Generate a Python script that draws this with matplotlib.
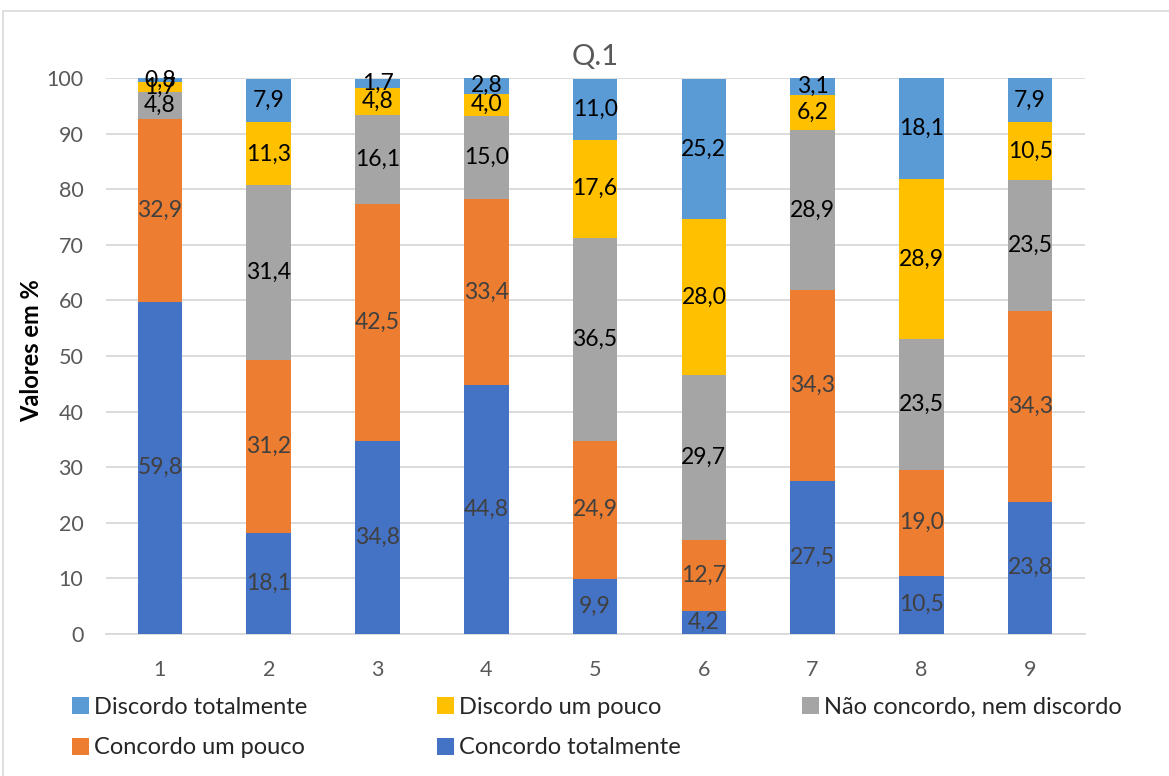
import matplotlib
matplotlib.use("Agg")
import matplotlib.pyplot as plt
from matplotlib.patches import Rectangle, Patch

plt.rcParams['font.family'] = ['Lato', 'DejaVu Sans']

categories = ["1", "2", "3", "4", "5", "6", "7", "8", "9"]

concordo_totalmente = [59.8, 18.1, 34.8, 44.8, 9.9, 4.2, 27.5, 10.5, 23.8]
concordo_um_pouco = [32.9, 31.2, 42.5, 33.4, 24.9, 12.7, 34.3, 19.0, 34.3]
nao_concordo_nem_discordo = [4.8, 31.4, 16.1, 15.0, 36.5, 29.7, 28.9, 23.5, 23.5]
discordo_um_pouco = [1.7, 11.3, 4.8, 4.0, 17.6, 28.0, 6.2, 28.9, 10.5]
discordo_totalmente = [0.8, 7.9, 1.7, 2.8, 11.0, 25.2, 3.1, 18.1, 7.9]

series = [
    ("Concordo totalmente", concordo_totalmente, "#4472C4", "#404040"),
    ("Concordo um pouco", concordo_um_pouco, "#ED7D31", "#404040"),
    ("Não concordo, nem discordo", nao_concordo_nem_discordo, "#A5A5A5", "#000000"),
    ("Discordo um pouco", discordo_um_pouco, "#FFC000", "#000000"),
    ("Discordo totalmente", discordo_totalmente, "#5B9BD5", "#000000"),
]

W, H = 1169, 776
fig = plt.figure(figsize=(W / 100, H / 100), dpi=100)
ax = fig.add_axes([105.6 / W, 1 - 634 / H, (1084.5 - 105.6) / W, (634 - 78) / H])

# chart-area frame
fig.patches.append(Rectangle((3 / W, -0.05), 1.2, 1 - 11 / H + 0.05,
                             transform=fig.transFigure, fill=False,
                             edgecolor="#D9D9D9", linewidth=1.2, zorder=0))

x = list(range(len(categories)))
bottom = [0.0] * len(categories)
for name, vals, color, txtcolor in series:
    bars = ax.bar(x, vals, width=0.41, bottom=bottom, color=color, zorder=3)
    ax.bar_label(bars, labels=[f"{v:.1f}".replace(".", ",") for v in vals],
                 label_type="center", fontsize=16.5, color=txtcolor, zorder=4)
    bottom = [b + v for b, v in zip(bottom, vals)]

ax.set_ylim(0, 100)
ax.set_xlim(-0.5, len(categories) - 0.5)
ax.set_yticks(range(0, 101, 10))
ax.set_xticks(x)
ax.set_xticklabels(categories)
ax.tick_params(axis="both", length=0, labelsize=15.5, labelcolor="#595959")
ax.tick_params(axis="x", pad=19)
ax.tick_params(axis="y", pad=16)
ax.yaxis.grid(True, color="#D9D9D9", linewidth=1.3, zorder=0)
ax.set_axisbelow(True)
for side in ["top", "right", "left"]:
    ax.spines[side].set_visible(False)
ax.spines["bottom"].set_color("#D9D9D9")
ax.spines["bottom"].set_linewidth(1.3)

fig.text((105.6 + 1084.5) / 2 / W, 1 - 57 / H, "Q.1", fontsize=21,
         color="#595959", ha="center", va="center")
fig.text(32 / W, 1 - 351 / H, "Valores em %", fontsize=17, fontweight="bold",
         color="#000000", rotation=90, ha="center", va="center")

# legend entries laid out in a 3-column grid
legend_order = ["Discordo totalmente", "Discordo um pouco", "Não concordo, nem discordo",
                "Concordo um pouco", "Concordo totalmente"]
colors = {name: color for name, _, color, _ in series}
col_x = [72 / W, 437 / W, 802 / W]
row_y = [1 - 707 / H, 1 - 748 / H]
for i, name in enumerate(legend_order):
    r, c = divmod(i, 3)
    fig.legend(handles=[Patch(facecolor=colors[name])], labels=[name],
               loc="center left", bbox_to_anchor=(col_x[c], row_y[r]),
               frameon=False, fontsize=17, handlelength=0.72, handleheight=0.72,
               handletextpad=0.2, labelcolor="#262626", borderaxespad=0, borderpad=0)

fig.savefig("out.png", dpi=100)
